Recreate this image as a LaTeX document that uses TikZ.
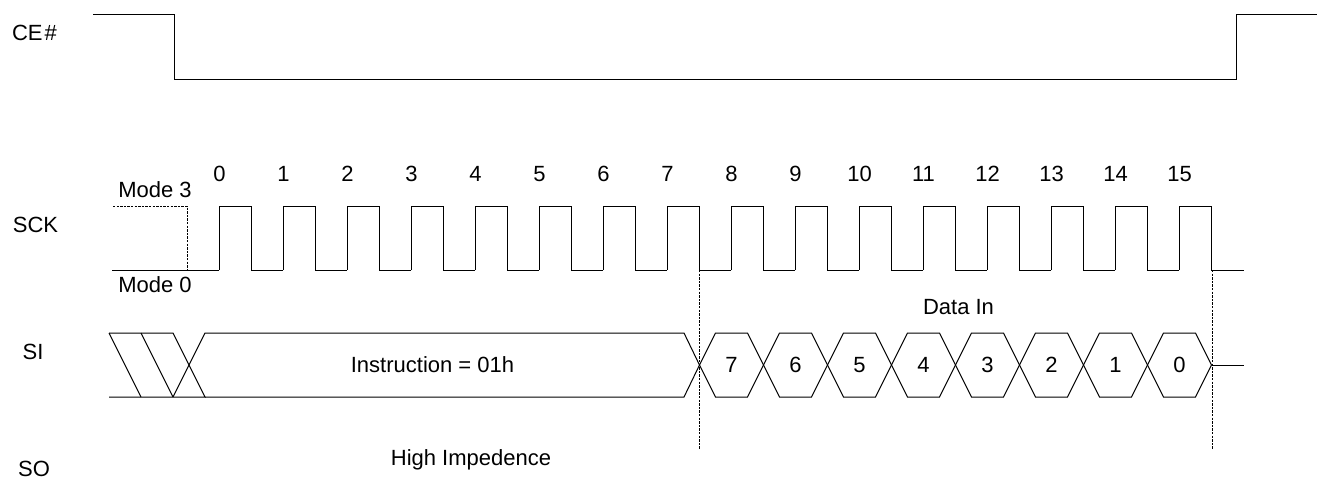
\documentclass[tikz,border=0pt]{standalone}
\usepackage{fontspec}
\setmainfont{Liberation Sans}
\usetikzlibrary{positioning}
\tikzset{
  wave/.style={draw=black, line width=0.5pt},
  guide/.style={draw=black, line width=0.45pt, dash pattern=on 1.2pt off 0.6pt},
  lbl/.style={font=\fontsize{11}{13}\selectfont, inner sep=0pt, text=black},
  digit/.style={lbl, anchor=base}
}
\begin{document}
\begin{tikzpicture}[x=0.5pt,y=-0.5pt]
  \useasboundingbox (0,0) rectangle (1318,479);
  % signal names
  \node[lbl] (ce) at (34.5,33) {CE\kern1pt\#};
  \node[lbl] (sck) at (35.5,225) {SCK};
  \node[lbl] (si) at (33,352) {SI};
  \node[lbl] (so) at (34,468.5) {SO};
  % chip enable
  \draw[wave] (93,14) -- (174,14) -- (174,79) -- (1236,79) -- (1236,14) -- (1317,14);
  % clock
  \node[lbl] (mode3) at (155,190) {Mode 3};
  \node[lbl] (mode0) at (155,285) {Mode 0};
  \draw[guide] (113,206) -- (187,206) -- (187,270);
  \draw[wave] (112,270) -- (219,270);
  \foreach \x/\name in {219/0,283/1,347/2,411/3,475/4,539/5,603/6,667/7,731/8,795/9,859/10,923/11,987/12,1051/13,1115/14,1179/15}{
    \draw[wave] (\x,270) -- (\x,206) -- ++(32,0) -- ++(0,64) -- ++(32,0);
    \node[digit] (clk\name) at (\x+0.5,181) {\name};
  }
  \draw[wave] (1211,270) -- (1244,270);
  % don't care lead-in
  \draw[wave] (109,333) -- (173,333) -- (205,397) -- (141,397) -- (109,397);
  \draw[wave] (109,333) -- (141,397);
  \draw[wave] (141,333) -- (173,397);
  % instruction
  \draw[wave] (173,397) -- (205,333) -- (684,333) -- (699.5,365) -- (684,397) -- (205,397);
  \node[lbl] (instr) at (432.5,365) {Instruction = 01h};
  % data bits
  \foreach \x/\name in {731.5/7,795.5/6,859.5/5,923.5/4,987.5/3,1051.5/2,1115.5/1,1179.5/0}{
    \draw[wave] (\x-32,365) -- ++(16,-32) -- ++(32,0) -- ++(16,32) -- ++(-16,32) -- ++(-32,0) -- cycle;
    \node[digit] (bit\name) at (\x,372.5) {\name};
  }
  \draw[wave] (1211.5,365) -- (1244,365);
  \node[lbl] (datain) at (958.5,307.5) {Data In};
  % guides
  \draw[guide] (699.5,270) -- (699.5,449);
  \draw[guide] (1212,270) -- (1212,449);
  \node[lbl] (hiz) at (471,460) {High Impedence};
\end{tikzpicture}
\end{document}
